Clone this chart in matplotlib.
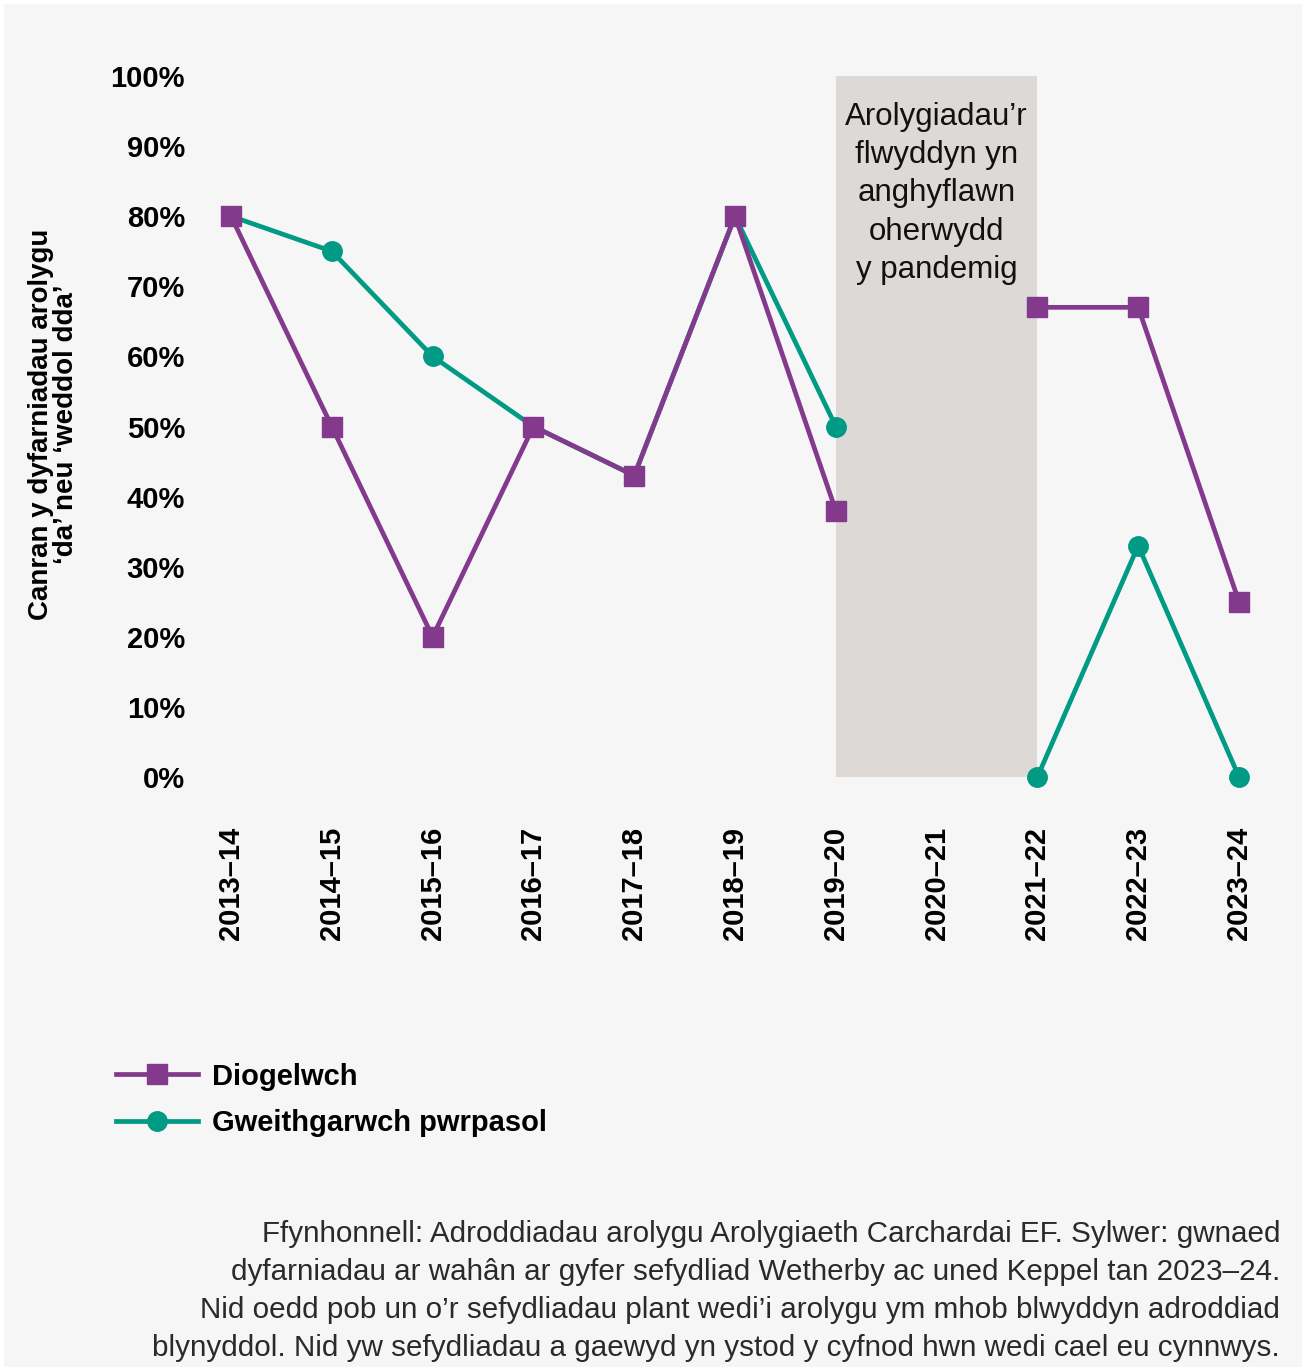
import matplotlib
matplotlib.use("Agg")
import matplotlib.pyplot as plt
from matplotlib.patches import Rectangle
import numpy as np

years = ['2013–14', '2014–15', '2015–16', '2016–17', '2017–18', '2018–19',
         '2019–20', '2020–21', '2021–22', '2022–23', '2023–24']
diogelwch = [80, 50, 20, 50, 43, 80, 38, np.nan, 67, 67, 25]
gweithgarwch = [80, 75, 60, 50, 43, 80, 50, np.nan, 0, 33, 0]
y_ticks = [0, 10, 20, 30, 40, 50, 60, 70, 80, 90, 100]

purple = '#833a8c'
teal = '#009a85'
bold_font = ['Liberation Sans', 'DejaVu Sans']
regular = ['Liberation Sans', 'DejaVu Sans']

W, H = 1306, 1371
fig = plt.figure(figsize=(W / 100, H / 100), dpi=100, facecolor='white')
fig.patches.append(Rectangle((4 / W, 4 / H), (W - 8) / W, (H - 8) / H,
                             transform=fig.transFigure, facecolor='#f6f6f6',
                             edgecolor='none', zorder=-10))

# axes placed so that x-units land where the reference puts them
x0, step = 231, 100.8
left = x0 - 0.4 * step
width = 10.8 * step
bottom, top = 777, 76
ax = fig.add_axes([left / W, 1 - bottom / H, width / W, (bottom - top) / H])
ax.set_facecolor('none')
ax.set_xlim(-0.4, 10.4)
ax.set_ylim(0, 100)

x = np.arange(len(years))

# pandemic shading 2019-20 to 2021-22
ax.axvspan(6, 8, ymin=0, ymax=1, color='#dcd9d6', zorder=0, lw=0)
ax.text(7, 96.3, 'Arolygiadau’r\nflwyddyn yn\nanghyflawn\noherwydd\ny pandemig',
        ha='center', va='top', fontsize=22.5, family=regular, color='#111111',
        linespacing=1.36)

ax.plot(x, gweithgarwch, color=teal, lw=3.4, marker='o', ms=14,
        clip_on=False, zorder=3, label='Gweithgarwch pwrpasol')
ax.plot(x, diogelwch, color=purple, lw=3.4, marker='s', ms=15,
        clip_on=False, zorder=4, label='Diogelwch')

for s in ax.spines.values():
    s.set_visible(False)
ax.set_yticks(y_ticks)
ax.set_yticklabels([f'{v}%' for v in y_ticks], fontsize=21, fontweight='bold',
                   family=bold_font)
ax.set_xticks(x)
ax.set_xticklabels(years, rotation=90, fontsize=21, fontweight='bold',
                   family=bold_font, va='top')
ax.tick_params(length=0)
ax.tick_params(axis='y', pad=4)
ax.tick_params(axis='x', pad=36)

fig.text(54 / W, 1 - 424 / H, 'Canran y dyfarniadau arolygu\n‘da’ neu ‘weddol dda’',
         rotation=90, ha='center', va='center', fontsize=20, fontweight='bold',
         family=bold_font, linespacing=0.95)

h, l = ax.get_legend_handles_labels()
leg = fig.legend(h[::-1], l[::-1], loc='center left',
                 bbox_to_anchor=(90 / W, 1 - 1100 / H), frameon=False,
                 handlelength=2.8, handletextpad=0.5, labelspacing=0.65,
                 prop={'family': bold_font, 'weight': 'bold', 'size': 21})

fig.text(1280 / W, 1 - 1291 / H,
         'Ffynhonnell: Adroddiadau arolygu Arolygiaeth Carchardai EF. Sylwer: gwnaed\n'
         'dyfarniadau ar wahân ar gyfer sefydliad Wetherby ac uned Keppel tan 2023–24.\n'
         'Nid oedd pob un o’r sefydliadau plant wedi’i arolygu ym mhob blwyddyn adroddiad\n'
         'blynyddol. Nid yw sefydliadau a gaewyd yn ystod y cyfnod hwn wedi cael eu cynnwys.',
         ha='right', va='center', fontsize=21.3, family=regular, color='#2a2a2a',
         linespacing=1.45)

fig.savefig('out.png', dpi=100, facecolor='white')
